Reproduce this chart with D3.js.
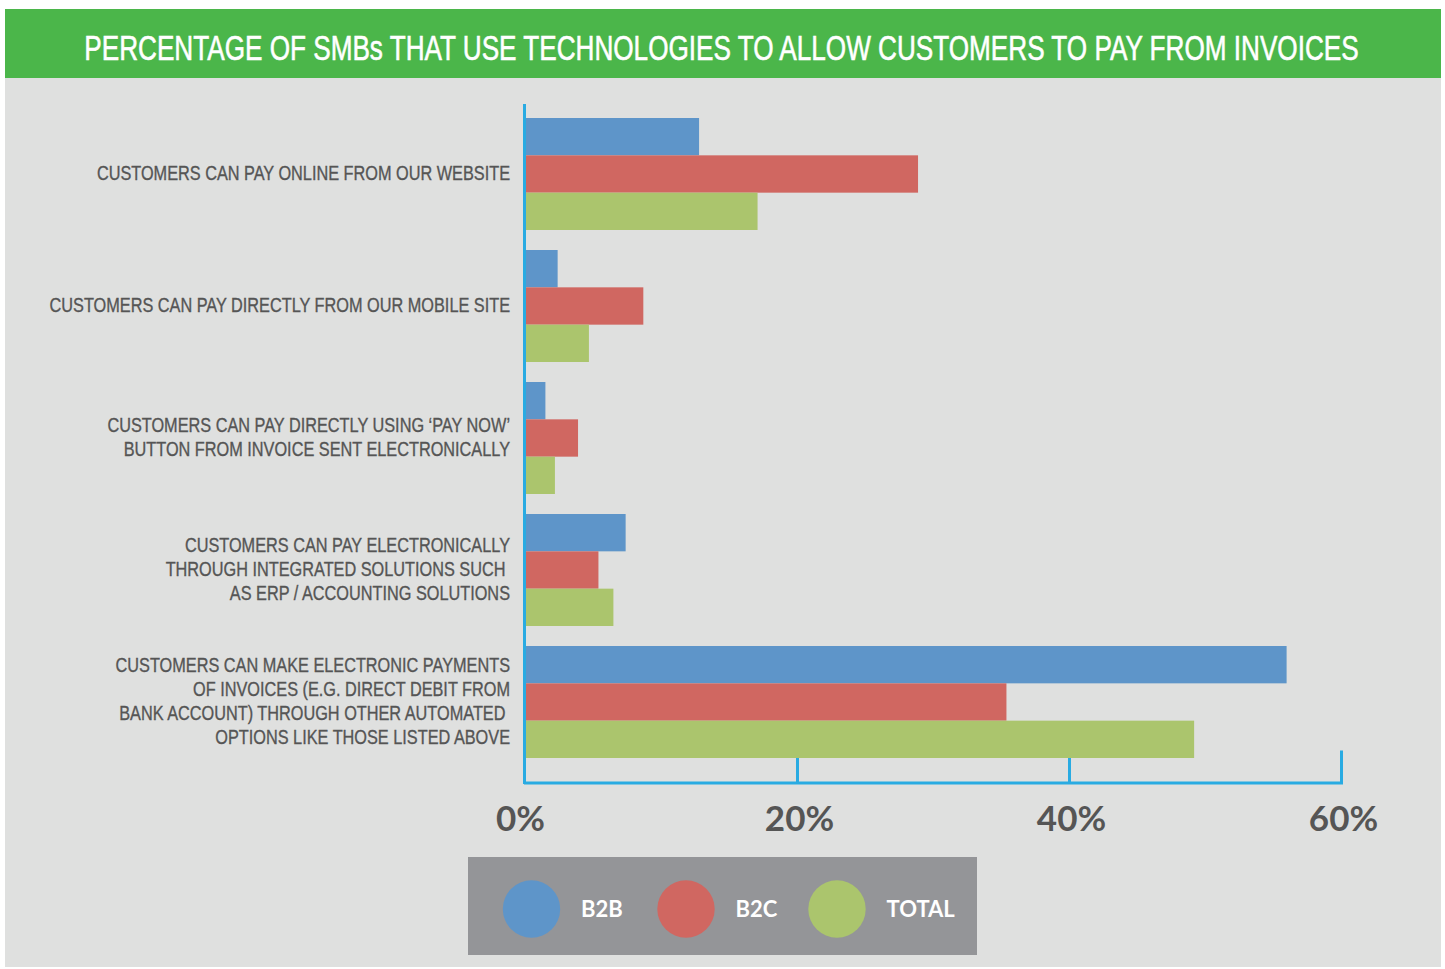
<!DOCTYPE html>
<html>
<head>
<meta charset="utf-8">
<script src="https://cdn.jsdelivr.net/npm/d3@7/dist/d3.min.js"></script>
<style>
  html, body { margin: 0; padding: 0; background: #ffffff; }
  svg { display: block; }
</style>
</head>
<body>
<svg id="chart" width="1445" height="969"></svg>
<script>
const title = "PERCENTAGE OF SMBs THAT USE TECHNOLOGIES TO ALLOW CUSTOMERS TO PAY FROM INVOICES";
const categories = [
  ["CUSTOMERS CAN PAY ONLINE FROM OUR WEBSITE"],
  ["CUSTOMERS CAN PAY DIRECTLY FROM OUR MOBILE SITE"],
  ["CUSTOMERS CAN PAY DIRECTLY USING \u2018PAY NOW\u2019", "BUTTON FROM INVOICE SENT ELECTRONICALLY"],
  ["CUSTOMERS CAN PAY ELECTRONICALLY", "THROUGH INTEGRATED SOLUTIONS SUCH ", "AS ERP / ACCOUNTING SOLUTIONS"],
  ["CUSTOMERS CAN MAKE ELECTRONIC PAYMENTS", "OF INVOICES (E.G. DIRECT DEBIT FROM", "BANK ACCOUNT) THROUGH OTHER AUTOMATED ", "OPTIONS LIKE THOSE LISTED ABOVE"]
];
const series = ["B2B", "B2C", "TOTAL"];
const b2b   = [12.8, 2.4, 1.5, 7.4, 56.0];
const b2c   = [28.9, 8.7, 3.9, 5.4, 35.4];
const total = [17.1, 4.7, 2.2, 6.5, 49.2];
const xTicks = [0, 20, 40, 60];
const colors = ["#5e95c9", "#d06761", "#abc56d"];

const values = [b2b, b2c, total];
const catKeys = categories.map((c, i) => i);

const svg = d3.select("#chart");

// background panels
svg.append("rect").attr("x", 5).attr("y", 9).attr("width", 1436).attr("height", 958).attr("fill", "#dfe0df");
svg.append("rect").attr("x", 5).attr("y", 9).attr("width", 1436).attr("height", 69).attr("fill", "#4bb64a");

// title
const condensed = "'Liberation Sans', Arial, sans-serif";
const t = svg.append("text")
  .attr("x", 721.5).attr("y", 60)
  .attr("text-anchor", "middle")
  .attr("fill", "#ffffff")
  .attr("stroke", "#ffffff").attr("stroke-width", 0.6)
  .style("font-family", condensed)
  .style("font-size", "35px")
  .text(title);
{
  const w = t.node().getComputedTextLength();
  const sx = 1275 / w;
  t.attr("transform", `translate(721.5,0) scale(${sx},1) translate(-721.5,0)`);
}

// scales
const x = d3.scaleLinear().domain([0, 60]).range([525, 1341]);
const y = d3.scaleBand().domain(catKeys).range([118, 758]).paddingInner(20 / 132).paddingOuter(0);
const ys = d3.scaleBand().domain(series).range([0, y.bandwidth()]);

// x axis
const axisY = 782.5;
const axis = d3.axisBottom(x)
  .tickValues(xTicks)
  .tickFormat(d => d + "%")
  .tickSizeInner(-32)
  .tickSizeOuter(0)
  .tickPadding(24);
const gAxis = svg.append("g").attr("transform", `translate(0,${axisY})`).call(axis);
gAxis.select(".domain").attr("stroke", "#29abe2").attr("stroke-width", 3).attr("stroke-linecap", "square");
gAxis.selectAll(".tick line").attr("stroke", "#29abe2").attr("stroke-width", 3)
  .attr("y1", 1.5)
  .style("display", d => d === 0 ? "none" : null);
gAxis.selectAll(".tick text")
  .attr("fill", "#555555")
  .style("font-family", "Lato, 'DejaVu Sans', sans-serif")
  .style("font-weight", "700")
  .style("font-size", "35px")
  .attr("dx", d => d === 0 ? -5 : 2);

// vertical axis line
svg.append("line")
  .attr("x1", 524.5).attr("x2", 524.5)
  .attr("y1", 104).attr("y2", 784)
  .attr("stroke", "#29abe2").attr("stroke-width", 3);

// bars
const groups = svg.append("g").selectAll("g")
  .data(catKeys)
  .join("g")
  .attr("transform", d => `translate(0,${y(d)})`);
groups.selectAll("rect")
  .data(i => series.map((s, k) => ({ s, k, v: values[k][i] })))
  .join("rect")
  .attr("x", x(0) + 1)
  .attr("y", d => ys(d.s))
  .attr("width", d => x(d.v) - x(0) - 1)
  .attr("height", ys.bandwidth())
  .attr("fill", d => colors[d.k]);

// category labels
const lineH = 24;
const labelG = svg.append("g");
categories.forEach((lines, i) => {
  const cy = y(i) + y.bandwidth() / 2;
  lines.forEach((ln, j) => {
    labelG.append("text")
      .attr("class", "cat")
      .attr("x", 510)
      .attr("y", cy + (j - (lines.length - 1) / 2) * lineH + 6.5)
      .attr("text-anchor", "end")
      .attr("fill", "#555555")
      .attr("stroke", "#555555").attr("stroke-width", 0.35)
      .style("white-space", "pre")
      .attr("xml:space", "preserve")
      .style("font-family", condensed)
      .style("font-size", "20.5px")
      .text(ln);
  });
});
{
  // fit condensed width to the reference: the 'PAY NOW' line spans about 403px
  const ref = labelG.selectAll("text.cat").filter(function() { return this.textContent.indexOf("PAY NOW") >= 0; }).node();
  const sx = 403 / ref.getComputedTextLength();
  labelG.selectAll("text.cat").attr("transform", `translate(510,0) scale(${sx},1) translate(-510,0)`);
}

// legend
svg.append("rect").attr("x", 468).attr("y", 857).attr("width", 509).attr("height", 98).attr("fill", "#949598");
const legX = [531.5, 686, 837];
const legG = svg.append("g").selectAll("g").data(series).join("g")
  .attr("transform", (d, i) => `translate(${legX[i]},909)`);
legG.append("circle").attr("r", 28.7).attr("fill", (d, i) => colors[i]);
legG.append("text")
  .attr("x", 49.5).attr("y", 8)
  .attr("fill", "#ffffff")
  .style("font-family", "Lato, 'DejaVu Sans', sans-serif")
  .style("font-weight", "700")
  .style("font-size", "22px")
  .text(d => d);
</script>
</body>
</html>
